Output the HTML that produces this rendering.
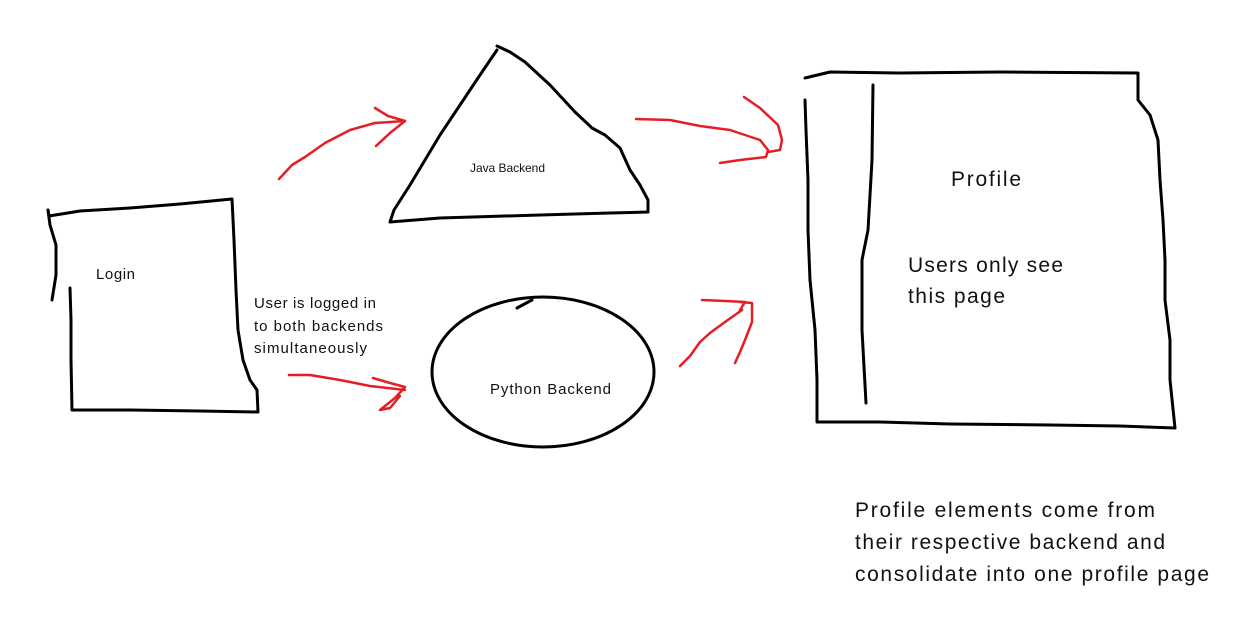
<!DOCTYPE html>
<html><head><meta charset="utf-8"><style>
html,body{margin:0;padding:0;background:#fff;}
svg{display:block;}
text{font-family:"Liberation Sans",sans-serif;fill:#111;}
</style></head><body>
<svg width="1252" height="632" viewBox="0 0 1252 632" xmlns="http://www.w3.org/2000/svg">
<g fill="none" stroke="#000" stroke-width="3" stroke-linecap="round" stroke-linejoin="round">
<path d="M48,210 L49,216 L80,211 L130,208 L180,204 L232,199 L234,240 L236,290 L238,330 L243,360 L250,380 L257,390 L258,412 L200,411 L130,410 L72,410 L71,360 L71,320 L70,288"/>
<path d="M48,210 L50,225 L56,245 L56,275 L52,300"/>
<path d="M497,46 L510,52 L525,62 L550,85 L575,112 L592,128 L605,135 L620,148 L630,170 L640,185 L648,200 L648,212 L610,213 L540,215 L440,218 L390,222 L394,210 L410,185 L425,160 L440,135 L460,105 L480,75 L497,50"/>
<ellipse cx="543" cy="372" rx="111" ry="75"/>
<path d="M517,308 L532,300"/>
<path d="M805,78 L830,72 L900,73 L1000,72 L1138,73 L1138,100 L1150,115 L1158,140 L1160,180 L1163,220 L1165,260 L1165,300 L1170,340 L1170,380 L1175,428 L1120,426 L1050,425 L950,424 L880,422 L817,422 L817,380 L815,330 L810,280 L808,230 L808,180 L806,130 L805,100"/>
<path d="M873,85 L872,160 L868,230 L862,260 L862,330 L866,403"/>
</g>
<g fill="none" stroke="#e31e24" stroke-width="2.5" stroke-linecap="round" stroke-linejoin="round">
<path d="M279,179 L292,165 L305,157 L325,143 L350,130 L375,123 L405,121"/>
<path d="M375,108 L388,116 L405,121 L390,133 L376,146"/>
<path d="M636,119 L670,120 L700,126 L730,130 L760,140 L768,150 L766,157 L740,160 L720,163"/>
<path d="M744,97 L760,108 L778,125 L782,140 L780,150 L768,152"/>
<path d="M289,375 L310,375 L340,380 L370,386 L405,390"/>
<path d="M373,378 L390,383 L405,387 L395,398 L380,410 L390,408 L400,396"/>
<path d="M680,366 L690,356 L700,342 L710,333 L725,322 L742,310"/>
<path d="M702,300 L725,301 L745,302 L740,310"/>
<path d="M740,302 L752,303 L752,322 L745,340 L740,352 L735,363"/>
</g>
<text x="470" y="172" font-size="12" textLength="75">Java Backend</text>
<text x="96" y="279" font-size="15" textLength="39">Login</text>
<text x="254" y="308" font-size="15" textLength="122">User is logged in</text>
<text x="254" y="331" font-size="15" textLength="129">to both backends</text>
<text x="254" y="353" font-size="15" textLength="113">simultaneously</text>
<text x="490" y="394" font-size="15" textLength="121">Python Backend</text>
<text x="951" y="186" font-size="21" textLength="70">Profile</text>
<text x="908" y="272" font-size="21" textLength="155">Users only see</text>
<text x="908" y="303" font-size="21" textLength="97">this page</text>
<text x="855" y="517" font-size="21" textLength="300">Profile elements come from</text>
<text x="855" y="549" font-size="21" textLength="310">their respective backend and</text>
<text x="855" y="581" font-size="21" textLength="354">consolidate into one profile page</text>
</svg>
</body></html>
